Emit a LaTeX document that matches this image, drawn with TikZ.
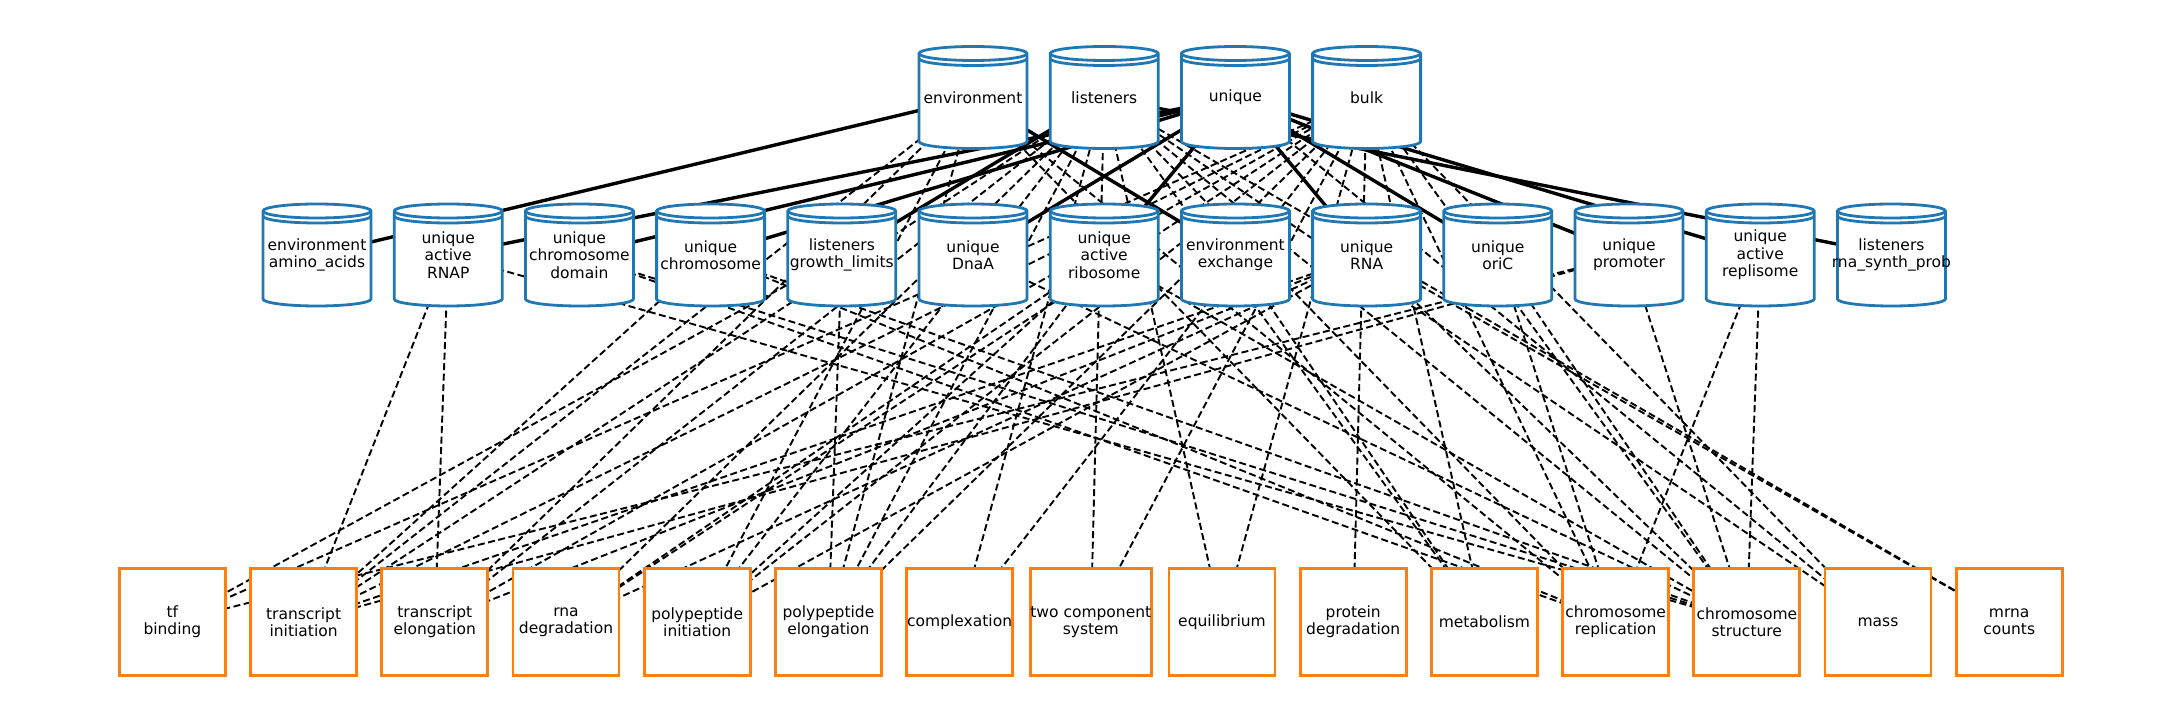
\documentclass[tikz,border=0pt]{standalone}
\usepackage{fontspec}
\setmainfont{DejaVu Sans}
\usetikzlibrary{backgrounds,positioning,calc}

\definecolor{storeBlue}{HTML}{1F77B4}
\definecolor{processOrange}{HTML}{FF7F0E}

\begin{document}
\begin{tikzpicture}[x=1pt, y=1pt, node distance=131.2pt]

  \tikzstyle{store} = [rectangle, minimum width=108pt, minimum height=102pt, inner sep=0pt,
    align=center, font={\fontsize{15.5pt}{17.3pt}\selectfont}]
  \tikzstyle{storeBody} = [draw=storeBlue, fill=white, line width=2.8pt]
  \tikzstyle{storeLine} = [draw=storeBlue, line width=2.8pt]
  \tikzstyle{process} = [draw=processOrange, line width=2.8pt, fill=white, rectangle,
    minimum width=106pt, minimum height=107pt, inner sep=0pt, align=center,
    font={\fontsize{15.5pt}{17.3pt}\selectfont}]
  \tikzstyle{nesting} = [black, line width=3.4pt]
  \tikzstyle{port} = [black, line width=1.9pt, dash pattern=on 7pt off 3.5pt]

  \useasboundingbox (0,0) rectangle (2179,721);

  % second level stores
  \node[store, name=aminoacids] at (317,466) {environment\\amino\_acids};
  \node[store, name=rnap, right of=aminoacids] {unique\\active\\RNAP};
  \node[store, name=chromdomain, right of=rnap] {unique\\chromosome\\domain};
  \node[store, name=chromosome, right of=chromdomain] {unique\\chromosome};
  \node[store, name=growthlimits, right of=chromosome] {listeners\\growth\_limits};
  \node[store, name=dnaa, right of=growthlimits] {unique\\DnaA};
  \node[store, name=ribosome, right of=dnaa] {unique\\active\\ribosome};
  \node[store, name=exchange, right of=ribosome] {environment\\exchange};
  \node[store, name=rna, right of=exchange] {unique\\RNA};
  \node[store, name=oric, right of=rna] {unique\\oriC};
  \node[store, name=promoter, right of=oric] {unique\\promoter};
  \node[store, name=replisome, right of=promoter] {unique\\active\\replisome};
  \node[store, name=rnasynth, right of=replisome] {listeners\\rna\_synth\_prob};

  % top level stores
  \node[store, name=env, above of=dnaa, yshift=26.3pt] {environment};
  \node[store, name=lis, right of=env] {listeners};
  \node[store, name=uniq, right of=lis] {unique};
  \node[store, name=bulk, right of=uniq] {bulk};

  % processes
  \node[process, name=tfbinding] at (172.4,99) {tf\\binding};
  \node[process, name=txinit, right of=tfbinding] {transcript\\initiation};
  \node[process, name=txelong, right of=txinit] {transcript\\elongation};
  \node[process, name=rnadeg, right of=txelong] {rna\\degradation};
  \node[process, name=ppinit, right of=rnadeg] {polypeptide\\initiation};
  \node[process, name=ppelong, right of=ppinit] {polypeptide\\elongation};
  \node[process, name=complexation, right of=ppelong] {complexation};
  \node[process, name=twocomp, right of=complexation] {two component\\system};
  \node[process, name=equilibrium, right of=twocomp] {equilibrium};
  \node[process, name=protdeg, right of=equilibrium] {protein\\degradation};
  \node[process, name=metabolism, right of=protdeg] {metabolism};
  \node[process, name=chromrepl, right of=metabolism] {chromosome\\replication};
  \node[process, name=chromstruct, right of=chromrepl] {chromosome\\structure};
  \node[process, name=mass, right of=chromstruct] {mass};
  \node[process, name=mrnacounts, right of=mass] {mrna\\counts};

  \begin{scope}[on background layer]
    % inner stores hang from their outer store
    \draw (env.center) edge[nesting] (aminoacids.center) edge[nesting] (exchange.center);
    \draw (lis.center) edge[nesting] (growthlimits.center) edge[nesting] (rnasynth.center);
    \draw (uniq.center) edge[nesting] (rnap.center) edge[nesting] (chromdomain.center)
      edge[nesting] (chromosome.center) edge[nesting] (dnaa.center) edge[nesting] (ribosome.center)
      edge[nesting] (rna.center) edge[nesting] (oric.center) edge[nesting] (promoter.center)
      edge[nesting] (replisome.center);

    % process ports wired to stores
    \draw (tfbinding.center) edge[port] (growthlimits.center) edge[port] (bulk.center)
      edge[port] (promoter.center);
    \draw (txinit.center) edge[port] (env.center) edge[port] (lis.center) edge[port] (bulk.center)
      edge[port] (rnap.center) edge[port] (chromosome.center) edge[port] (rna.center)
      edge[port] (promoter.center);
    \draw (txelong.center) edge[port] (env.center) edge[port] (lis.center) edge[port] (bulk.center)
      edge[port] (rnap.center) edge[port] (rna.center);
    \draw (rnadeg.center) edge[port] (lis.center) edge[port] (bulk.center)
      edge[port] (rna.center) edge[port] (ribosome.center);
    \draw (ppinit.center) edge[port] (env.center) edge[port] (lis.center) edge[port] (bulk.center)
      edge[port] (ribosome.center) edge[port] (rna.center);
    \draw (ppelong.center) edge[port] (env.center) edge[port] (lis.center) edge[port] (bulk.center)
      edge[port] (ribosome.center) edge[port] (growthlimits.center);
    \draw (complexation.center) edge[port] (lis.center) edge[port] (bulk.center);
    \draw (twocomp.center) edge[port] (lis.center) edge[port] (bulk.center);
    \draw (equilibrium.center) edge[port] (lis.center) edge[port] (bulk.center);
    \draw (protdeg.center) edge[port] (bulk.center);
    \draw (metabolism.center) edge[port] (env.center) edge[port] (lis.center) edge[port] (bulk.center)
      edge[port] (exchange.center);
    \draw (chromrepl.center) edge[port] (env.center) edge[port] (lis.center) edge[port] (bulk.center)
      edge[port] (replisome.center) edge[port] (oric.center) edge[port] (chromdomain.center)
      edge[port] (chromosome.center);
    \draw (chromstruct.center) edge[port] (lis.center) edge[port] (bulk.center)
      edge[port] (replisome.center) edge[port] (oric.center) edge[port] (chromdomain.center)
      edge[port] (chromosome.center) edge[port] (rnap.center) edge[port] (rna.center)
      edge[port] (ribosome.center) edge[port] (promoter.center) edge[port] (dnaa.center);
    \draw (mass.center) edge[port] (lis.center) edge[port] (uniq.center) edge[port] (bulk.center);
    \draw (mrnacounts.center) edge[port] (lis.center) edge[port] (rna.center);

    % cylinder bodies sit over the wires but under the labels
    \foreach \s in {env,lis,uniq,bulk,aminoacids,rnap,chromdomain,chromosome,growthlimits,
                    dnaa,ribosome,exchange,rna,oric,promoter,replisome,rnasynth} {
      \path[storeBody] ($(\s.center)+(-54,44)$) -- ++(0,-88)
        arc[start angle=180, end angle=360, x radius=54, y radius=7]
        -- ++(0,88) arc[start angle=0, end angle=180, x radius=54, y radius=7] -- cycle;
      \draw[storeLine] ($(\s.center)+(-54,44)$) arc[start angle=180, end angle=360, x radius=54, y radius=7];
      \draw[storeLine] ($(\s.center)+(-54,39)$) arc[start angle=180, end angle=360, x radius=54, y radius=7];
    }
  \end{scope}

\end{tikzpicture}
\end{document}
